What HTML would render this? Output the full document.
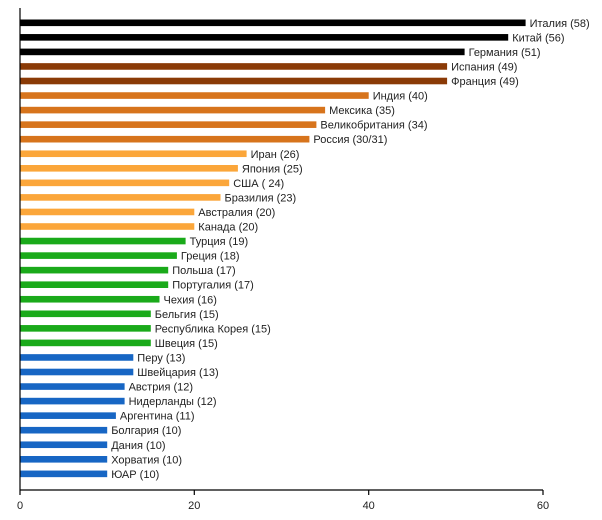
<!DOCTYPE html>
<html><head><meta charset="utf-8"><style>body{margin:0;background:#fff}svg{display:block}text{font-family:"Liberation Sans",sans-serif;font-size:11px;fill:#222}</style></head><body>
<svg width="602" height="520" xmlns="http://www.w3.org/2000/svg">
<g height="6.6">
<rect x="20" y="19.5" width="505.6" height="6.6" fill="#000"/><text x="529.6" y="26.8">Италия (58)</text>
<rect x="20" y="34.05" width="488.2" height="6.6" fill="#000"/><text x="512.2" y="41.35">Китай (56)</text>
<rect x="20" y="48.6" width="444.6" height="6.6" fill="#000"/><text x="468.6" y="55.9">Германия (51)</text>
<rect x="20" y="63.15" width="427.1" height="6.6" fill="#8a3a06"/><text x="451.1" y="70.45">Испания (49)</text>
<rect x="20" y="77.7" width="427.1" height="6.6" fill="#8a3a06"/><text x="451.1" y="85">Франция (49)</text>
<rect x="20" y="92.25" width="348.7" height="6.6" fill="#d7741c"/><text x="372.7" y="99.55">Индия (40)</text>
<rect x="20" y="106.8" width="305.1" height="6.6" fill="#d7741c"/><text x="329.1" y="114.1">Мексика (35)</text>
<rect x="20" y="121.35" width="296.4" height="6.6" fill="#d7741c"/><text x="320.4" y="128.65">Великобритания (34)</text>
<rect x="20" y="135.9" width="289.4" height="6.6" fill="#d7741c"/><text x="313.4" y="143.2">Россия (30/31)</text>
<rect x="20" y="150.45" width="226.6" height="6.6" fill="#fba63a"/><text x="250.6" y="157.75">Иран (26)</text>
<rect x="20" y="165" width="217.9" height="6.6" fill="#fba63a"/><text x="241.9" y="172.3">Япония (25)</text>
<rect x="20" y="179.55" width="209.2" height="6.6" fill="#fba63a"/><text x="233.2" y="186.85">США ( 24)</text>
<rect x="20" y="194.1" width="200.5" height="6.6" fill="#fba63a"/><text x="224.5" y="201.4">Бразилия (23)</text>
<rect x="20" y="208.65" width="174.3" height="6.6" fill="#fba63a"/><text x="198.3" y="215.95">Австралия (20)</text>
<rect x="20" y="223.2" width="174.3" height="6.6" fill="#fba63a"/><text x="198.3" y="230.5">Канада (20)</text>
<rect x="20" y="237.75" width="165.6" height="6.6" fill="#1aaa1a"/><text x="189.6" y="245.05">Турция (19)</text>
<rect x="20" y="252.3" width="156.9" height="6.6" fill="#1aaa1a"/><text x="180.9" y="259.6">Греция (18)</text>
<rect x="20" y="266.85" width="148.2" height="6.6" fill="#1aaa1a"/><text x="172.2" y="274.15">Польша (17)</text>
<rect x="20" y="281.4" width="148.2" height="6.6" fill="#1aaa1a"/><text x="172.2" y="288.7">Португалия (17)</text>
<rect x="20" y="295.95" width="139.5" height="6.6" fill="#1aaa1a"/><text x="163.5" y="303.25">Чехия (16)</text>
<rect x="20" y="310.5" width="130.8" height="6.6" fill="#1aaa1a"/><text x="154.8" y="317.8">Бельгия (15)</text>
<rect x="20" y="325.05" width="130.8" height="6.6" fill="#1aaa1a"/><text x="154.8" y="332.35">Республика Корея (15)</text>
<rect x="20" y="339.6" width="130.8" height="6.6" fill="#1aaa1a"/><text x="154.8" y="346.9">Швеция (15)</text>
<rect x="20" y="354.15" width="113.3" height="6.6" fill="#1766c4"/><text x="137.3" y="361.45">Перу (13)</text>
<rect x="20" y="368.7" width="113.3" height="6.6" fill="#1766c4"/><text x="137.3" y="376">Швейцария (13)</text>
<rect x="20" y="383.25" width="104.6" height="6.6" fill="#1766c4"/><text x="128.6" y="390.55">Австрия (12)</text>
<rect x="20" y="397.8" width="104.6" height="6.6" fill="#1766c4"/><text x="128.6" y="405.1">Нидерланды (12)</text>
<rect x="20" y="412.35" width="95.9" height="6.6" fill="#1766c4"/><text x="119.9" y="419.65">Аргентина (11)</text>
<rect x="20" y="426.9" width="87.2" height="6.6" fill="#1766c4"/><text x="111.2" y="434.2">Болгария (10)</text>
<rect x="20" y="441.45" width="87.2" height="6.6" fill="#1766c4"/><text x="111.2" y="448.75">Дания (10)</text>
<rect x="20" y="456" width="87.2" height="6.6" fill="#1766c4"/><text x="111.2" y="463.3">Хорватия (10)</text>
<rect x="20" y="470.55" width="87.2" height="6.6" fill="#1766c4"/><text x="111.2" y="477.85">ЮАР (10)</text>
</g>
<line x1="20" y1="8" x2="20" y2="490" stroke="#000" stroke-width="1.2"/>
<line x1="20" y1="490" x2="543" y2="490" stroke="#000" stroke-width="1.2"/>
<g stroke="#000" stroke-width="1.2"><line x1="20" y1="490" x2="20" y2="495"/><line x1="194.3" y1="490" x2="194.3" y2="495"/><line x1="368.7" y1="490" x2="368.7" y2="495"/><line x1="543" y1="490" x2="543" y2="495"/></g>
<g text-anchor="middle"><text x="20" y="509">0</text><text x="194.3" y="509">20</text><text x="368.7" y="509">40</text><text x="543" y="509">60</text></g>
</svg>
</body></html>
